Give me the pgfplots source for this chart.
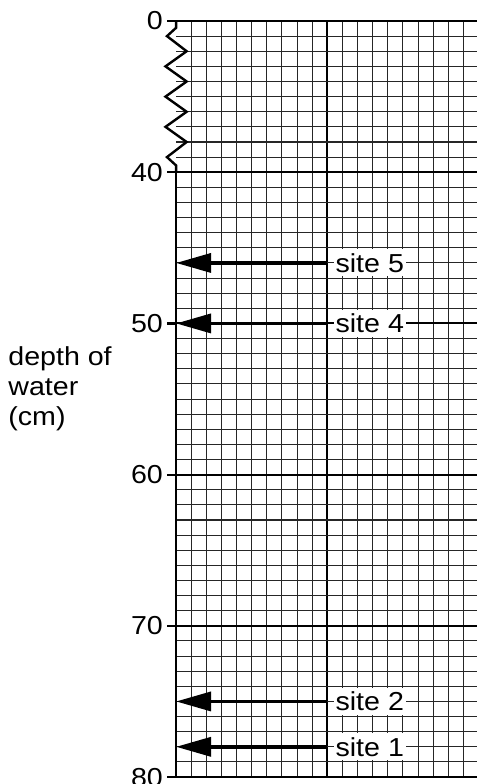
\documentclass[border=0pt]{standalone}
\usepackage{fontspec}
\setmainfont{Liberation Sans}[FakeStretch=1.1]
\usepackage{pgfplots}
\pgfplotsset{compat=1.18}
\usetikzlibrary{arrows.meta}
\newcommand{\bigf}{\fontsize{26}{30}\selectfont}
\begin{document}
\begin{tikzpicture}
\begin{axis}[
  scale only axis,
  width=301pt, height=756pt,
  xmin=0, xmax=19.9, ymin=30, ymax=80,
  y dir=reverse,
  axis line style={draw=none},
  xtick={10},
  minor xtick={1,2,...,9,11,12,...,19},
  xticklabels={},
  ytick={30,40,50,60,70,80},
  yticklabels={0,40,50,60,70,80},
  minor ytick={31,32,...,39,41,42,...,49,51,52,...,59,61,62,...,69,71,72,...,79},
  grid=both,
  major grid style={black, line width=2pt},
  minor grid style={black!85, line width=1.05pt},
  major tick length=0pt, minor tick length=0pt,
  yticklabel style={font=\bigf, inner sep=0pt, xshift=-13pt},
  /pgf/number format/assume math mode=true,
  clip=false,
]
% left spine and zigzag break
\draw[line width=2.8pt] (axis cs:0,40) -- (axis cs:0,80.05);
\draw[line width=2.4pt, line join=miter]
  (axis cs:0,30) -- (axis cs:0,30.45) -- (axis cs:-0.6,31) -- (axis cs:0.7,32)
  -- (axis cs:-0.7,33) -- (axis cs:0.7,34) -- (axis cs:-0.7,35) -- (axis cs:0.7,36)
  -- (axis cs:-0.7,37) -- (axis cs:0.7,38) -- (axis cs:-0.6,39) -- (axis cs:0,39.55)
  -- (axis cs:0,40);
\draw[line width=2.2pt] (axis cs:0,80) -- (axis cs:19.9,80);
\draw[line width=2.2pt] (axis cs:0,30) -- (axis cs:19.9,30);
% tick marks
\draw[line width=2.2pt] (axis cs:0,30) -- ++(-9pt,0pt);
\draw[line width=2.2pt] (axis cs:0,40) -- ++(-9pt,0pt);
\draw[line width=2.2pt] (axis cs:0,50) -- ++(-9pt,0pt);
\draw[line width=2.2pt] (axis cs:0,60) -- ++(-9pt,0pt);
\draw[line width=2.2pt] (axis cs:0,70) -- ++(-9pt,0pt);
\draw[line width=2.2pt] (axis cs:0,80) -- ++(-9pt,0pt);
% arrows to sites
\addplot[line width=3.5pt, -{Triangle[length=35pt,width=19pt]}] coordinates {(10,46) (0,46)}
  node[pos=0, anchor=west, fill=white, inner xsep=2pt, inner ysep=4pt, xshift=4.5pt, font=\bigf] {site 5};
\addplot[line width=3.5pt, -{Triangle[length=35pt,width=19pt]}] coordinates {(10,50) (0,50)}
  node[pos=0, anchor=west, fill=white, inner xsep=2pt, inner ysep=4pt, xshift=4.5pt, font=\bigf] {site 4};
\addplot[line width=3.5pt, -{Triangle[length=35pt,width=19pt]}] coordinates {(10,75) (0,75)}
  node[pos=0, anchor=west, fill=white, inner xsep=2pt, inner ysep=4pt, xshift=4.5pt, font=\bigf] {site 2};
\addplot[line width=3.5pt, -{Triangle[length=35pt,width=19pt]}] coordinates {(10,78) (0,78)}
  node[pos=0, anchor=west, fill=white, inner xsep=2pt, inner ysep=4pt, xshift=4.5pt, font=\bigf] {site 1};
% y label
\node[anchor=west, align=left, font=\bigf, inner sep=0pt] at (axis cs:-11.1,54.3) {depth of\\water\\(cm)};
% bounding box corners
\coordinate (bbl) at (axis cs:-11.64,80.46);
\coordinate (btr) at (axis cs:19.9,28.61);
\end{axis}
\pgfresetboundingbox
\path[use as bounding box] (bbl) rectangle (btr);
\end{tikzpicture}
\end{document}
